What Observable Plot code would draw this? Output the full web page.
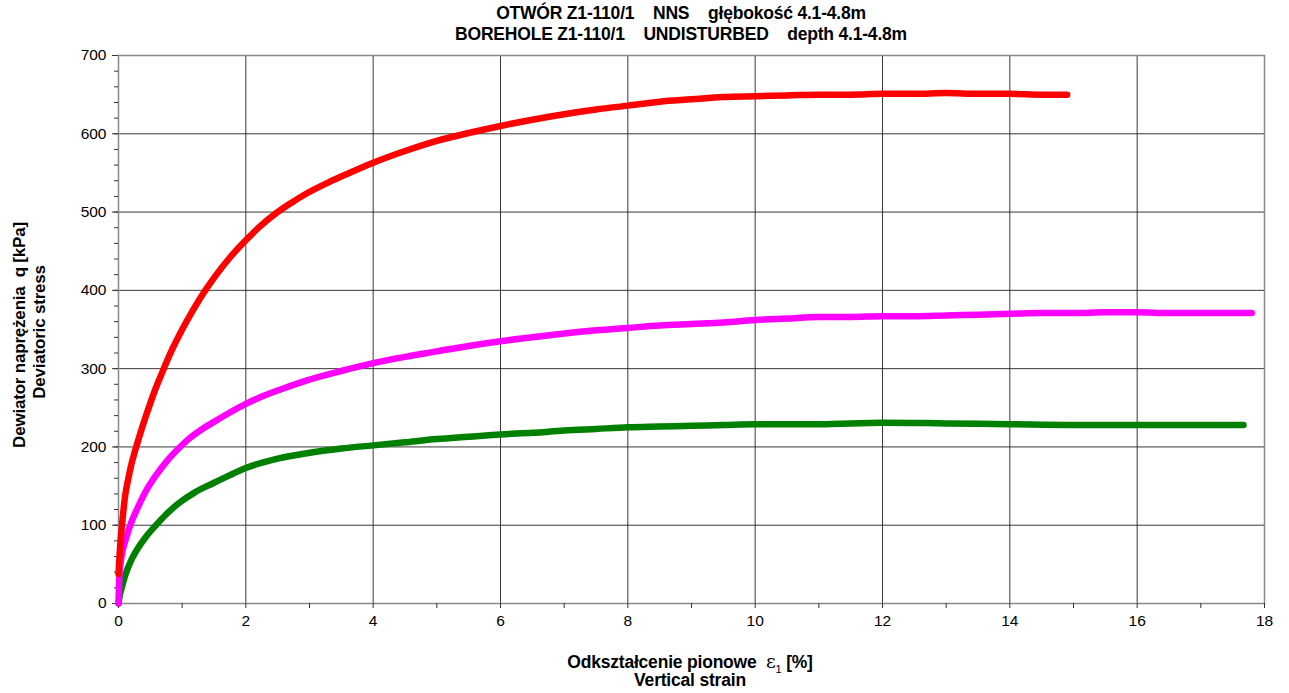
<!DOCTYPE html>
<html>
<head>
<meta charset="utf-8">
<script src="https://cdn.jsdelivr.net/npm/d3@7"></script>
<script src="https://cdn.jsdelivr.net/npm/@observablehq/plot@0.6"></script>
<style>
  body { margin: 0; background: #fff; font-family: "Liberation Sans", Arial, sans-serif; }
  #wrap { position: relative; width: 1289px; height: 693px; }
  .title { position: absolute; left: 0; width: 1362px; text-align: center; font-weight: bold; font-size: 17.5px; white-space: pre; color: #000; letter-spacing: -0.2px; }
  .xl { position: absolute; left: 0; width: 1380px; text-align: center; font-weight: bold; font-size: 17.5px; white-space: pre; color: #000; letter-spacing: -0.2px; }
  .yl { position: absolute; font-weight: bold; font-size: 17px; white-space: pre; color: #000; transform-origin: 0 0; transform: rotate(-90deg); text-align: center; width: 400px; letter-spacing: -0.2px; }
  #chart { position: absolute; left: 0; top: 45px; }
  .eps { font-family: "DejaVu Serif", "Liberation Serif", serif; font-weight: normal; font-size: 19px; }
  sub { font-size: 11px; font-weight: normal; }
</style>
</head>
<body>
<div id="wrap">
  <div class="title" style="top:3px">OTWÓR Z1-110/1    NNS    głębokość 4.1-4.8m</div>
  <div class="title" style="top:24px">BOREHOLE Z1-110/1    UNDISTURBED    depth 4.1-4.8m</div>
  <div id="chart"></div>
  <div class="xl" style="top:650px">Odkształcenie pionowe  <span class="eps">ε</span><sub>1</sub> [%]</div>
  <div class="xl" style="top:670px">Vertical strain</div>
  <div class="yl" style="left:10px; top:535px">Dewiator naprężenia  q [kPa]</div>
  <div class="yl" style="left:30px; top:532px">Deviatoric stress</div>
</div>
<script>
const xTicks = [0, 2, 4, 6, 8, 10, 12, 14, 16, 18];
const yTicks = [0, 100, 200, 300, 400, 500, 600, 700];

const redStrain = [0, 0.02, 0.055, 0.1, 0.15, 0.2, 0.25, 0.3, 0.36, 0.42, 0.5, 0.58, 0.66, 0.8, 1.0, 1.15, 1.29, 1.5, 1.75, 2.0, 2.2, 2.45, 2.7, 2.96, 3.3, 3.6, 4.0, 4.5, 5.0, 5.5, 6.0, 6.5, 7.0, 7.5, 8.0, 8.5, 9.0, 9.5, 10.0, 10.5, 11.0, 11.5, 12.0, 12.5, 13.0, 13.5, 14.0, 14.5, 14.9];
const redStress = [38, 66, 100, 135, 158, 177, 192, 206, 222, 237, 256, 274, 290, 317, 350, 372, 391, 416, 442, 464, 480, 497, 511, 524, 538, 549, 563, 578, 591, 601, 610, 618, 625, 631, 636, 641, 644, 647, 648, 649, 650, 650, 651, 651, 652, 651, 651, 650, 650];

const magStrain = [0, 0.01, 0.03, 0.06, 0.1, 0.185, 0.3, 0.42, 0.6, 0.75, 0.92, 1.1, 1.3, 1.5, 1.75, 2.0, 2.3, 2.6, 2.96, 3.5, 4.0, 4.5, 5.0, 5.5, 6.0, 6.5, 7.0, 7.5, 8.0, 8.5, 9.0, 9.5, 10.0, 10.5, 11.0, 11.5, 12.0, 12.5, 13.0, 13.5, 14.0, 14.5, 15.0, 15.5, 16.0, 16.5, 17.0, 17.8];
const magStress = [0, 30, 50, 66, 78, 100, 122, 142, 165, 181, 196, 210, 222, 232, 244, 255, 266, 275, 285, 297, 307, 315, 322, 329, 335, 340, 345, 349, 352, 355, 357, 359, 362, 364, 366, 366, 367, 367, 368, 369, 370, 371, 371, 372, 372, 371, 371, 371];

const greenStrain = [0, 0.02, 0.05, 0.11, 0.21, 0.3, 0.42, 0.6, 0.75, 0.945, 1.2, 1.47, 1.75, 2.0, 2.5, 2.96, 3.5, 4.0, 4.5, 5.0, 5.5, 6.0, 6.5, 7.0, 7.5, 8.0, 8.5, 9.0, 9.5, 10.0, 11.0, 12.0, 13.0, 14.0, 15.0, 16.0, 17.0, 17.67];
const greenStress = [0, 10, 20, 37, 57, 70, 84, 101, 114, 128, 142, 153, 164, 173, 185, 192, 198, 202, 206, 210, 213, 216, 218, 221, 223, 225, 226, 227, 228, 229, 229, 231, 230, 229, 228, 228, 228, 228];

const mk = (xs, ys) => xs.map((x, i) => ({x, y: ys[i]}));
const red = mk(redStrain, redStress);
const mag = mk(magStrain, magStress);
const green = mk(greenStrain, greenStress);

const plot = Plot.plot({
  width: 1289,
  height: 648,
  marginLeft: 118,
  marginRight: 25,
  marginTop: 10,
  marginBottom: 90,
  style: { fontFamily: "Liberation Sans, Arial, sans-serif", fontSize: "15.5px", color: "#000", background: "#fff" },
  x: { domain: [0, 18] },
  y: { domain: [0, 700] },
  marks: [
    Plot.gridY(yTicks.slice(1, -1), { stroke: "#222", strokeOpacity: 0.9, strokeWidth: 1 }),
    Plot.gridX(xTicks.slice(1, -1), { stroke: "#222", strokeOpacity: 0.9, strokeWidth: 1 }),
    Plot.frame({ stroke: "#888", strokeWidth: 1.5 }),
    Plot.axisY(yTicks, { tickSize: 6, tickPadding: 6, label: null, fontSize: 15.5, stroke: "#333" }),
    Plot.axisY(d3.range(0, 701, 20), { tickSize: 4, tickFormat: () => "", label: null, stroke: "#333" }),
    Plot.axisX(xTicks, { tickSize: 5, tickPadding: 6, label: null, fontSize: 15.5, stroke: "#333" }),
    Plot.axisX(d3.range(1, 18, 2), { tickSize: 5, tickFormat: () => "", label: null, stroke: "#333" }),
    Plot.line(green, { x: "x", y: "y", stroke: "#008000", strokeWidth: 6.5, curve: "monotone-x" }),
    Plot.line(mag, { x: "x", y: "y", stroke: "#FF00FF", strokeWidth: 6.5, curve: "monotone-x" }),
    Plot.line(red, { x: "x", y: "y", stroke: "#FF0000", strokeWidth: 6.5, curve: "monotone-x" })
  ]
});
document.getElementById("chart").appendChild(plot);
</script>
</body>
</html>
